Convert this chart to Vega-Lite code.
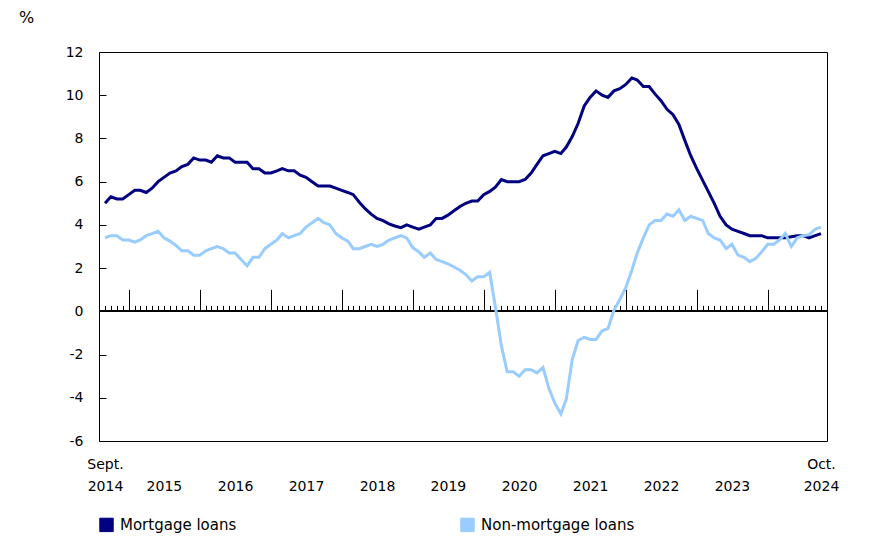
{
  "$schema": "https://vega.github.io/schema/vega-lite/v6.json",
  "width": 728,
  "height": 389,
  "autosize": {"type": "none"},
  "padding": {"left": 99, "top": 52, "right": 63, "bottom": 113},
  "background": "white",
  "config": {
    "view": {"stroke": "#000", "strokeWidth": 1},
    "font": "DejaVu Sans",
    "axis": {"labelFont": "DejaVu Sans", "labelColor": "#000", "tickColor": "#000", "grid": false, "domain": false, "titleFontWeight": "normal"}
  },
  "data": {"values": [
    {"date": "2014-09-01", "Mortgage loans": 5.0, "Non-mortgage loans": 3.4},
    {"date": "2014-10-01", "Mortgage loans": 5.3, "Non-mortgage loans": 3.5},
    {"date": "2014-11-01", "Mortgage loans": 5.2, "Non-mortgage loans": 3.5},
    {"date": "2014-12-01", "Mortgage loans": 5.2, "Non-mortgage loans": 3.3},
    {"date": "2015-01-01", "Mortgage loans": 5.4, "Non-mortgage loans": 3.3},
    {"date": "2015-02-01", "Mortgage loans": 5.6, "Non-mortgage loans": 3.2},
    {"date": "2015-03-01", "Mortgage loans": 5.6, "Non-mortgage loans": 3.3},
    {"date": "2015-04-01", "Mortgage loans": 5.5, "Non-mortgage loans": 3.5},
    {"date": "2015-05-01", "Mortgage loans": 5.7, "Non-mortgage loans": 3.6},
    {"date": "2015-06-01", "Mortgage loans": 6.0, "Non-mortgage loans": 3.7},
    {"date": "2015-07-01", "Mortgage loans": 6.2, "Non-mortgage loans": 3.4},
    {"date": "2015-08-01", "Mortgage loans": 6.4, "Non-mortgage loans": 3.25},
    {"date": "2015-09-01", "Mortgage loans": 6.5, "Non-mortgage loans": 3.05},
    {"date": "2015-10-01", "Mortgage loans": 6.7, "Non-mortgage loans": 2.8},
    {"date": "2015-11-01", "Mortgage loans": 6.8, "Non-mortgage loans": 2.8},
    {"date": "2015-12-01", "Mortgage loans": 7.1, "Non-mortgage loans": 2.6},
    {"date": "2016-01-01", "Mortgage loans": 7.0, "Non-mortgage loans": 2.6},
    {"date": "2016-02-01", "Mortgage loans": 7.0, "Non-mortgage loans": 2.8},
    {"date": "2016-03-01", "Mortgage loans": 6.9, "Non-mortgage loans": 2.9},
    {"date": "2016-04-01", "Mortgage loans": 7.2, "Non-mortgage loans": 3.0},
    {"date": "2016-05-01", "Mortgage loans": 7.1, "Non-mortgage loans": 2.9},
    {"date": "2016-06-01", "Mortgage loans": 7.1, "Non-mortgage loans": 2.7},
    {"date": "2016-07-01", "Mortgage loans": 6.9, "Non-mortgage loans": 2.7},
    {"date": "2016-08-01", "Mortgage loans": 6.9, "Non-mortgage loans": 2.4},
    {"date": "2016-09-01", "Mortgage loans": 6.9, "Non-mortgage loans": 2.1},
    {"date": "2016-10-01", "Mortgage loans": 6.6, "Non-mortgage loans": 2.5},
    {"date": "2016-11-01", "Mortgage loans": 6.6, "Non-mortgage loans": 2.5},
    {"date": "2016-12-01", "Mortgage loans": 6.4, "Non-mortgage loans": 2.9},
    {"date": "2017-01-01", "Mortgage loans": 6.4, "Non-mortgage loans": 3.1},
    {"date": "2017-02-01", "Mortgage loans": 6.5, "Non-mortgage loans": 3.3},
    {"date": "2017-03-01", "Mortgage loans": 6.6, "Non-mortgage loans": 3.6},
    {"date": "2017-04-01", "Mortgage loans": 6.5, "Non-mortgage loans": 3.4},
    {"date": "2017-05-01", "Mortgage loans": 6.5, "Non-mortgage loans": 3.5},
    {"date": "2017-06-01", "Mortgage loans": 6.3, "Non-mortgage loans": 3.6},
    {"date": "2017-07-01", "Mortgage loans": 6.2, "Non-mortgage loans": 3.9},
    {"date": "2017-08-01", "Mortgage loans": 6.0, "Non-mortgage loans": 4.1},
    {"date": "2017-09-01", "Mortgage loans": 5.8, "Non-mortgage loans": 4.3},
    {"date": "2017-10-01", "Mortgage loans": 5.8, "Non-mortgage loans": 4.1},
    {"date": "2017-11-01", "Mortgage loans": 5.8, "Non-mortgage loans": 4.0},
    {"date": "2017-12-01", "Mortgage loans": 5.7, "Non-mortgage loans": 3.6},
    {"date": "2018-01-01", "Mortgage loans": 5.6, "Non-mortgage loans": 3.4},
    {"date": "2018-02-01", "Mortgage loans": 5.5, "Non-mortgage loans": 3.25},
    {"date": "2018-03-01", "Mortgage loans": 5.4, "Non-mortgage loans": 2.9},
    {"date": "2018-04-01", "Mortgage loans": 5.05, "Non-mortgage loans": 2.9},
    {"date": "2018-05-01", "Mortgage loans": 4.75, "Non-mortgage loans": 3.0},
    {"date": "2018-06-01", "Mortgage loans": 4.5, "Non-mortgage loans": 3.1},
    {"date": "2018-07-01", "Mortgage loans": 4.3, "Non-mortgage loans": 3.0},
    {"date": "2018-08-01", "Mortgage loans": 4.2, "Non-mortgage loans": 3.1},
    {"date": "2018-09-01", "Mortgage loans": 4.05, "Non-mortgage loans": 3.3},
    {"date": "2018-10-01", "Mortgage loans": 3.95, "Non-mortgage loans": 3.4},
    {"date": "2018-11-01", "Mortgage loans": 3.87, "Non-mortgage loans": 3.5},
    {"date": "2018-12-01", "Mortgage loans": 4.0, "Non-mortgage loans": 3.4},
    {"date": "2019-01-01", "Mortgage loans": 3.9, "Non-mortgage loans": 2.95},
    {"date": "2019-02-01", "Mortgage loans": 3.8, "Non-mortgage loans": 2.75},
    {"date": "2019-03-01", "Mortgage loans": 3.9, "Non-mortgage loans": 2.5},
    {"date": "2019-04-01", "Mortgage loans": 4.0, "Non-mortgage loans": 2.7},
    {"date": "2019-05-01", "Mortgage loans": 4.3, "Non-mortgage loans": 2.4},
    {"date": "2019-06-01", "Mortgage loans": 4.3, "Non-mortgage loans": 2.3},
    {"date": "2019-07-01", "Mortgage loans": 4.45, "Non-mortgage loans": 2.2},
    {"date": "2019-08-01", "Mortgage loans": 4.65, "Non-mortgage loans": 2.05},
    {"date": "2019-09-01", "Mortgage loans": 4.85, "Non-mortgage loans": 1.9},
    {"date": "2019-10-01", "Mortgage loans": 5.0, "Non-mortgage loans": 1.7},
    {"date": "2019-11-01", "Mortgage loans": 5.1, "Non-mortgage loans": 1.4},
    {"date": "2019-12-01", "Mortgage loans": 5.1, "Non-mortgage loans": 1.6},
    {"date": "2020-01-01", "Mortgage loans": 5.4, "Non-mortgage loans": 1.6},
    {"date": "2020-02-01", "Mortgage loans": 5.55, "Non-mortgage loans": 1.8},
    {"date": "2020-03-01", "Mortgage loans": 5.75, "Non-mortgage loans": 0.2},
    {"date": "2020-04-01", "Mortgage loans": 6.1, "Non-mortgage loans": -1.6},
    {"date": "2020-05-01", "Mortgage loans": 6.0, "Non-mortgage loans": -2.8},
    {"date": "2020-06-01", "Mortgage loans": 6.0, "Non-mortgage loans": -2.8},
    {"date": "2020-07-01", "Mortgage loans": 6.0, "Non-mortgage loans": -3.0},
    {"date": "2020-08-01", "Mortgage loans": 6.1, "Non-mortgage loans": -2.7},
    {"date": "2020-09-01", "Mortgage loans": 6.4, "Non-mortgage loans": -2.7},
    {"date": "2020-10-01", "Mortgage loans": 6.8, "Non-mortgage loans": -2.85},
    {"date": "2020-11-01", "Mortgage loans": 7.2, "Non-mortgage loans": -2.6},
    {"date": "2020-12-01", "Mortgage loans": 7.3, "Non-mortgage loans": -3.55},
    {"date": "2021-01-01", "Mortgage loans": 7.4, "Non-mortgage loans": -4.25},
    {"date": "2021-02-01", "Mortgage loans": 7.3, "Non-mortgage loans": -4.75},
    {"date": "2021-03-01", "Mortgage loans": 7.6, "Non-mortgage loans": -4.05},
    {"date": "2021-04-01", "Mortgage loans": 8.1, "Non-mortgage loans": -2.2},
    {"date": "2021-05-01", "Mortgage loans": 8.7, "Non-mortgage loans": -1.35},
    {"date": "2021-06-01", "Mortgage loans": 9.5, "Non-mortgage loans": -1.2},
    {"date": "2021-07-01", "Mortgage loans": 9.9, "Non-mortgage loans": -1.3},
    {"date": "2021-08-01", "Mortgage loans": 10.2, "Non-mortgage loans": -1.3},
    {"date": "2021-09-01", "Mortgage loans": 10.0, "Non-mortgage loans": -0.9},
    {"date": "2021-10-01", "Mortgage loans": 9.9, "Non-mortgage loans": -0.8},
    {"date": "2021-11-01", "Mortgage loans": 10.2, "Non-mortgage loans": 0.05},
    {"date": "2021-12-01", "Mortgage loans": 10.3, "Non-mortgage loans": 0.55},
    {"date": "2022-01-01", "Mortgage loans": 10.5, "Non-mortgage loans": 1.1},
    {"date": "2022-02-01", "Mortgage loans": 10.8, "Non-mortgage loans": 1.9},
    {"date": "2022-03-01", "Mortgage loans": 10.7, "Non-mortgage loans": 2.7},
    {"date": "2022-04-01", "Mortgage loans": 10.4, "Non-mortgage loans": 3.4},
    {"date": "2022-05-01", "Mortgage loans": 10.4, "Non-mortgage loans": 4.0},
    {"date": "2022-06-01", "Mortgage loans": 10.05, "Non-mortgage loans": 4.2},
    {"date": "2022-07-01", "Mortgage loans": 9.75, "Non-mortgage loans": 4.2},
    {"date": "2022-08-01", "Mortgage loans": 9.35, "Non-mortgage loans": 4.5},
    {"date": "2022-09-01", "Mortgage loans": 9.1, "Non-mortgage loans": 4.4},
    {"date": "2022-10-01", "Mortgage loans": 8.65, "Non-mortgage loans": 4.7},
    {"date": "2022-11-01", "Mortgage loans": 7.9, "Non-mortgage loans": 4.2},
    {"date": "2022-12-01", "Mortgage loans": 7.2, "Non-mortgage loans": 4.4},
    {"date": "2023-01-01", "Mortgage loans": 6.6, "Non-mortgage loans": 4.3},
    {"date": "2023-02-01", "Mortgage loans": 6.05, "Non-mortgage loans": 4.2},
    {"date": "2023-03-01", "Mortgage loans": 5.55, "Non-mortgage loans": 3.6},
    {"date": "2023-04-01", "Mortgage loans": 5.0, "Non-mortgage loans": 3.4},
    {"date": "2023-05-01", "Mortgage loans": 4.4, "Non-mortgage loans": 3.3},
    {"date": "2023-06-01", "Mortgage loans": 4.0, "Non-mortgage loans": 2.9},
    {"date": "2023-07-01", "Mortgage loans": 3.8, "Non-mortgage loans": 3.1},
    {"date": "2023-08-01", "Mortgage loans": 3.7, "Non-mortgage loans": 2.6},
    {"date": "2023-09-01", "Mortgage loans": 3.6, "Non-mortgage loans": 2.5},
    {"date": "2023-10-01", "Mortgage loans": 3.5, "Non-mortgage loans": 2.3},
    {"date": "2023-11-01", "Mortgage loans": 3.5, "Non-mortgage loans": 2.45},
    {"date": "2023-12-01", "Mortgage loans": 3.5, "Non-mortgage loans": 2.75},
    {"date": "2024-01-01", "Mortgage loans": 3.4, "Non-mortgage loans": 3.1},
    {"date": "2024-02-01", "Mortgage loans": 3.4, "Non-mortgage loans": 3.1},
    {"date": "2024-03-01", "Mortgage loans": 3.4, "Non-mortgage loans": 3.3},
    {"date": "2024-04-01", "Mortgage loans": 3.4, "Non-mortgage loans": 3.6},
    {"date": "2024-05-01", "Mortgage loans": 3.45, "Non-mortgage loans": 3.0},
    {"date": "2024-06-01", "Mortgage loans": 3.5, "Non-mortgage loans": 3.4},
    {"date": "2024-07-01", "Mortgage loans": 3.5, "Non-mortgage loans": 3.5},
    {"date": "2024-08-01", "Mortgage loans": 3.4, "Non-mortgage loans": 3.55},
    {"date": "2024-09-01", "Mortgage loans": 3.5, "Non-mortgage loans": 3.8},
    {"date": "2024-10-01", "Mortgage loans": 3.6, "Non-mortgage loans": 3.9}
  ]},
  "transform": [
    {"fold": ["Mortgage loans", "Non-mortgage loans"], "as": ["series", "value"]}
  ],
  "layer": [
    {
      "mark": {"type": "rule", "color": "#000", "strokeWidth": 1},
      "encoding": {
        "y": {
          "datum": 0, "type": "quantitative",
          "scale": {"domain": [-6, 12], "nice": false, "zero": false},
          "axis": null
        }
      }
    },
    {
      "mark": {"type": "point", "opacity": 0},
      "encoding": {
        "x": {
          "field": "date", "type": "temporal",
          "scale": {"type": "utc", "domain": [{"year": 2014, "month": 8, "date": 1, "utc": true}, {"year": 2024, "month": 11, "date": 1, "utc": true}], "nice": false},
          "axis": {"orient": "top", "offset": -259.333, "tickCount": {"interval": "month", "step": 1}, "tickSize": 6, "tickWidth": 1, "labels": false, "domain": false, "grid": false, "title": null}
        },
        "y": {
          "field": "value", "type": "quantitative",
          "axis": {"orient": "right", "offset": -728, "values": [-6, -4, -2, 0, 2, 4, 6, 8, 10, 12], "ticks": true, "tickSize": 7, "tickWidth": 1, "tickColor": "#000", "labels": false, "domain": false, "grid": false, "title": null}
        }
      }
    },
    {
      "mark": {"type": "point", "opacity": 0},
      "encoding": {
        "x": {
          "field": "date", "type": "temporal",
          "axis": {"orient": "top", "offset": -259.333, "tickCount": {"interval": "year", "step": 1}, "tickSize": 22, "tickWidth": 1, "labels": false, "domain": false, "grid": false, "title": null}
        }
      }
    },
    {
      "mark": {"type": "line", "strokeWidth": 3},
      "encoding": {
        "x": {
          "field": "date", "type": "temporal",
          "axis": {
            "orient": "bottom",
            "title": null,
            "ticks": false,
            "domain": false,
            "grid": false,
            "values": [
              {"year": 2014, "month": 9, "date": 1, "utc": true},
              {"year": 2015, "month": 7, "date": 1, "utc": true},
              {"year": 2016, "month": 7, "date": 1, "utc": true},
              {"year": 2017, "month": 7, "date": 1, "utc": true},
              {"year": 2018, "month": 7, "date": 1, "utc": true},
              {"year": 2019, "month": 7, "date": 1, "utc": true},
              {"year": 2020, "month": 7, "date": 1, "utc": true},
              {"year": 2021, "month": 7, "date": 1, "utc": true},
              {"year": 2022, "month": 7, "date": 1, "utc": true},
              {"year": 2023, "month": 7, "date": 1, "utc": true},
              {"year": 2024, "month": 10, "date": 1, "utc": true}
            ],
            "labelExpr": "utcmonth(datum.value) == 8 ? ['Sept.', '2014'] : (utcmonth(datum.value) == 9 ? ['Oct.', '2024'] : ['', '' + utcyear(datum.value)])",
            "labelAlign": "center",
            "labelBaseline": "top",
            "labelLineHeight": 22,
            "labelPadding": 16,
            "labelFontSize": 14,
            "labelOverlap": false,
            "labelFlush": false,
            "labelBound": false
          }
        },
        "y": {
          "field": "value", "type": "quantitative",
          "axis": {
            "orient": "left",
            "values": [-6, -4, -2, 0, 2, 4, 6, 8, 10, 12],
            "labelExpr": "'' + datum.value",
            "ticks": false,
            "labelPadding": 16,
            "labelFontSize": 14,
            "domain": false,
            "grid": false,
            "title": "%",
            "titleAngle": 0,
            "titleX": -73,
            "titleY": -35,
            "titleAlign": "center",
            "titleBaseline": "middle",
            "titleFontSize": 16,
            "titleFontWeight": "normal",
            "titleColor": "#000",
            "titleFont": "DejaVu Sans"
          }
        },
        "color": {
          "field": "series", "type": "nominal",
          "scale": {"domain": ["Mortgage loans", "Non-mortgage loans"], "range": ["#000080", "#99ccff"]},
          "legend": {
            "orient": "none",
            "legendX": 0,
            "legendY": 465,
            "direction": "horizontal",
            "title": null,
            "padding": 0,
            "symbolType": "square",
            "symbolSize": 180,
            "symbolStrokeWidth": 1,
            "labelFontSize": 15,
            "labelColor": "#000",
            "labelFont": "DejaVu Sans",
            "labelOffset": 6,
            "columnPadding": 221,
            "encode": {
              "symbols": {"update": {"fill": {"scale": "color", "field": "value"}, "stroke": {"value": "#000"}, "strokeWidth": {"value": 1}, "opacity": {"value": 1}}}
            }
          }
        }
      }
    }
  ],
  "resolve": {"axis": {"x": "independent", "y": "independent"}}
}
